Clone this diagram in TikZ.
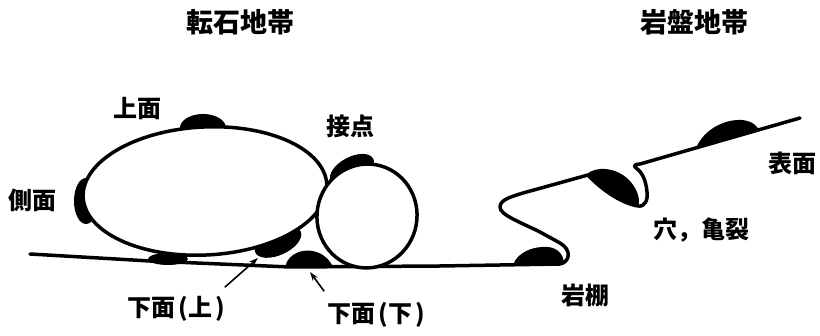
\documentclass[tikz,border=0pt]{standalone}
\usepackage{fontspec}
\setmainfont{Noto Sans CJK JP}
\usetikzlibrary{arrows.meta,calc}
\begin{document}
\begin{tikzpicture}[x=1pt,y=-1pt,
  outline/.style={line width=3.5pt, line cap=round, line join=round},
  deposit/.style={fill=black},
  label/.style={font=\fontsize{24}{24}\selectfont\bfseries, inner sep=0pt},
  heading/.style={font=\fontsize{27}{27}\selectfont\bfseries, inner sep=0pt},
  pointer/.style={line width=1.6pt, -{Stealth[length=9pt,width=6pt]}}]
\useasboundingbox (0,0) rectangle (820,336);

% headings
\node[heading] (boulder) at (240,22) {転石地帯};
\node[heading] (bedrock) at (694,22) {岩盤地帯};

% deposits on the boulders (partly hidden by the stones drawn over them)
\fill[deposit] (203,128) ellipse [x radius=23, y radius=14];
\fill[deposit] (86,201) ellipse [x radius=12, y radius=23];
\fill[deposit, rotate around={25:(278,242)}] (278,242) ellipse [x radius=25, y radius=13];
\fill[deposit] (168,259) ellipse [x radius=20, y radius=6];
\fill[deposit, rotate around={28:(352,170)}] (352,170) ellipse [x radius=24, y radius=13];

% ground under the boulders and the bedrock profile
\draw[outline] (30,254) -- (150,261) -- (290,267) -- (440,266) -- (560,264)
  .. controls (570,262) and (572,250) .. (560,243) -- (540,232)
  .. controls (520,222) and (500,215) .. (500,207)
  .. controls (500,200) and (510,197) .. (523,193) -- (588,175)
  .. controls (600,188) and (620,203) .. (638,206)
  .. controls (645,207) and (648,200) .. (647,192)
  .. controls (646,180) and (642,172) .. (636,168)
  .. controls (633,166) and (635,164) .. (640,164) -- (800,118);

% deposits on the ground and on the bedrock
\fill[deposit] (285,268) .. controls (288,247) and (322,243) .. (333,267) -- cycle;
\fill[deposit] (513,265) .. controls (518,251) and (535,246) .. (548,247)
  .. controls (558,248) and (564,255) .. (564,264) -- cycle;
\fill[deposit] (587,174) .. controls (596,166) and (616,167) .. (629,180)
  .. controls (637,188) and (641,200) .. (638,206)
  .. controls (620,203) and (600,188) .. (587,174) -- cycle;
\fill[deposit] (696,148) .. controls (704,129) and (725,119) .. (742,120)
  .. controls (752,121) and (758,126) .. (759,131) -- cycle;

% boulders
\draw[outline, fill=white, rotate around={3:(205,191)}] (205,191) ellipse [x radius=122, y radius=64];
\draw[outline, fill=white, rotate around={-10:(367,216)}] (367,216) ellipse [x radius=50, y radius=52];

% labels
\node[label] (top)    at (137,109) {上面};
\node[label] (touch)  at (350,126) {接点};
\node[label] (side)   at (33,200)  {側面};
\node[label] (lowA)   at (176,309) {下面\hspace{3pt}(上\hspace{3pt})};
\node[label] (lowB)   at (376,315) {下面\hspace{3pt}(下\hspace{3pt})};
\node[label] (face)   at (792,163) {表面};
\node[label] (crack)  at (701,230) {穴，亀裂};
\node[label] (ledge)  at (585,295) {岩棚};

% pointers
\coordinate (tipA) at (258,258);
\coordinate (tipB) at (310,272);
\draw[pointer] ($(lowA.north east)+(0,-9)$) -- (tipA);
\draw[pointer] ($(lowB.north west)+(-3,-11)$) -- (tipB);
\end{tikzpicture}
\end{document}
